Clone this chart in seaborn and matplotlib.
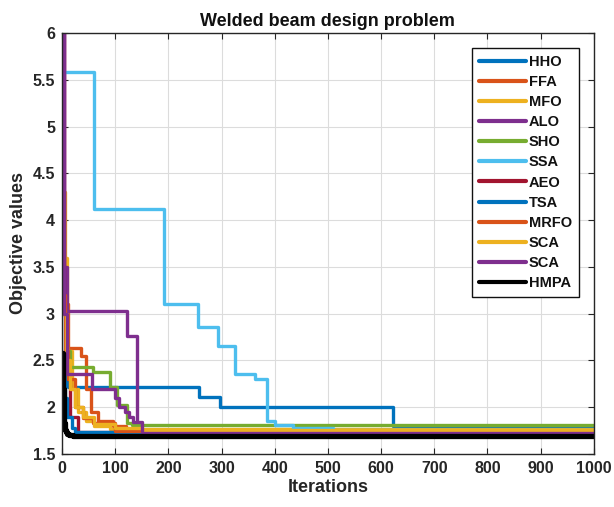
import matplotlib
matplotlib.use("Agg")
import matplotlib.pyplot as plt
import seaborn as sns
import pandas as pd
from matplotlib.ticker import FormatStrFormatter, MultipleLocator

# Convergence histories (best objective so far), stored as breakpoints of step curves
hho_it = [1, 5, 12, 258, 297, 622, 1000]
hho_v = [3.0, 2.4, 2.22, 2.11, 2.0, 1.80, 1.80]

ffa_it = [1, 8, 12, 36, 46, 55, 68, 95, 120, 1000]
ffa_v = [3.6, 3.1, 2.63, 2.55, 2.2, 1.95, 1.85, 1.80, 1.74, 1.74]

mfo_it = [0, 5, 10, 18, 30, 45, 60, 90, 1000]
mfo_v = [4.3, 3.6, 2.6, 2.2, 1.95, 1.85, 1.80, 1.77, 1.77]

alo_it = [0, 3, 10, 122, 141, 1000]
alo_v = [6.5, 3.5, 3.03, 2.76, 1.73, 1.73]

sho_it = [3, 8, 15, 58, 90, 103, 122, 131, 1000]
sho_v = [3.0, 2.6, 2.43, 2.38, 2.22, 2.02, 1.83, 1.81, 1.81]

ssa_it = [0, 2, 60, 192, 256, 293, 326, 363, 385, 400, 435, 510, 1000]
ssa_v = [6.8, 5.58, 4.12, 3.10, 2.86, 2.65, 2.36, 2.30, 1.85, 1.81, 1.78, 1.76, 1.76]

aeo_it = [0, 3, 8, 15, 30, 1000]
aeo_v = [6.5, 3.0, 2.3, 1.9, 1.73, 1.73]

tsa_it = [1, 5, 10, 18, 25, 1000]
tsa_v = [2.4, 2.1, 1.9, 1.78, 1.73, 1.73]

mrfo_it = [1, 6, 12, 25, 40, 58, 100, 1000]
mrfo_v = [3.2, 2.6, 2.3, 2.0, 1.88, 1.83, 1.75, 1.75]

sca_it = [1, 8, 15, 25, 40, 60, 100, 150, 1000]
sca_v = [3.0, 2.5, 2.2, 2.0, 1.9, 1.82, 1.78, 1.76, 1.76]

sca2_it = [0, 4, 10, 57, 100, 108, 118, 126, 134, 150, 1000]
sca2_v = [6.5, 3.0, 2.35, 2.2, 2.1, 2.0, 1.95, 1.9, 1.84, 1.72, 1.72]

hmpa_it = [0, 1, 2, 3, 4, 6, 8, 10, 14, 20, 30, 1000]
hmpa_v = [2.58, 2.45, 2.2, 1.95, 1.83, 1.76, 1.73, 1.71, 1.70, 1.695, 1.69, 1.69]

series = [
    ("HHO", hho_it, hho_v, "#0072BD"),
    ("FFA", ffa_it, ffa_v, "#D95319"),
    ("MFO", mfo_it, mfo_v, "#EDB120"),
    ("ALO", alo_it, alo_v, "#7E2F8E"),
    ("SHO", sho_it, sho_v, "#77AC30"),
    ("SSA", ssa_it, ssa_v, "#4DBEEE"),
    ("AEO", aeo_it, aeo_v, "#A2142F"),
    ("TSA", tsa_it, tsa_v, "#0072BD"),
    ("MRFO", mrfo_it, mrfo_v, "#D95319"),
    ("SCA", sca_it, sca_v, "#EDB120"),
    ("SCA", sca2_it, sca2_v, "#7E2F8E"),
    ("HMPA", hmpa_it, hmpa_v, "#000000"),
]

sns.set_theme(style="whitegrid")
plt.rcParams["font.family"] = ["Liberation Sans", "DejaVu Sans"]
plt.rcParams["font.weight"] = "bold"

fig = plt.figure(figsize=(6.14, 5.07), dpi=100)
ax = fig.add_axes([0.101, 0.1045, 0.866, 0.8305])

for name, it, v, color in series:
    df = pd.DataFrame({"Iterations": it, "Objective values": v})
    lw = 3.8 if name == "HMPA" else 2.4
    sns.lineplot(data=df, x="Iterations", y="Objective values", ax=ax,
                 color=color, lw=lw, label=name, drawstyle="steps-post",
                 estimator=None, sort=False)

ax.set_xlim(0, 1000)
ax.set_ylim(1.5, 6)
ax.xaxis.set_major_locator(MultipleLocator(100))
ax.yaxis.set_major_locator(MultipleLocator(0.5))
ax.yaxis.set_major_formatter(FormatStrFormatter("%g"))

ax.grid(True, color="#dcdcdc", lw=0.8)
for s in ax.spines.values():
    s.set_color("#262626")
    s.set_linewidth(1.0)
ax.tick_params(axis="both", which="major", direction="in", length=4, width=0.8,
               color="#262626", labelsize=11.5, top=True, right=True,
               bottom=True, left=True, pad=5)
for lab in ax.get_xticklabels() + ax.get_yticklabels():
    lab.set_fontweight("bold")
    lab.set_color("#262626")

ax.set_xlabel("Iterations", fontsize=13, fontweight="bold", color="#262626", labelpad=2)
ax.set_ylabel("Objective values", fontsize=13, fontweight="bold", color="#262626", labelpad=4)
ax.set_title("Welded beam design problem", fontsize=13, fontweight="bold", color="#111111", pad=5)

leg = ax.legend(loc="upper right", fontsize=10.5, frameon=True, fancybox=False,
                edgecolor="#111111", framealpha=1, borderaxespad=1.0,
                handlelength=3.2, handletextpad=0.2, labelspacing=0.42,
                borderpad=0.5)
leg.get_frame().set_linewidth(1.0)
for t in leg.get_texts():
    t.set_fontweight("bold")
    t.set_color("#111111")
for h in leg.get_lines():
    h.set_linewidth(3.0)

fig.savefig("out.png", dpi=100)
